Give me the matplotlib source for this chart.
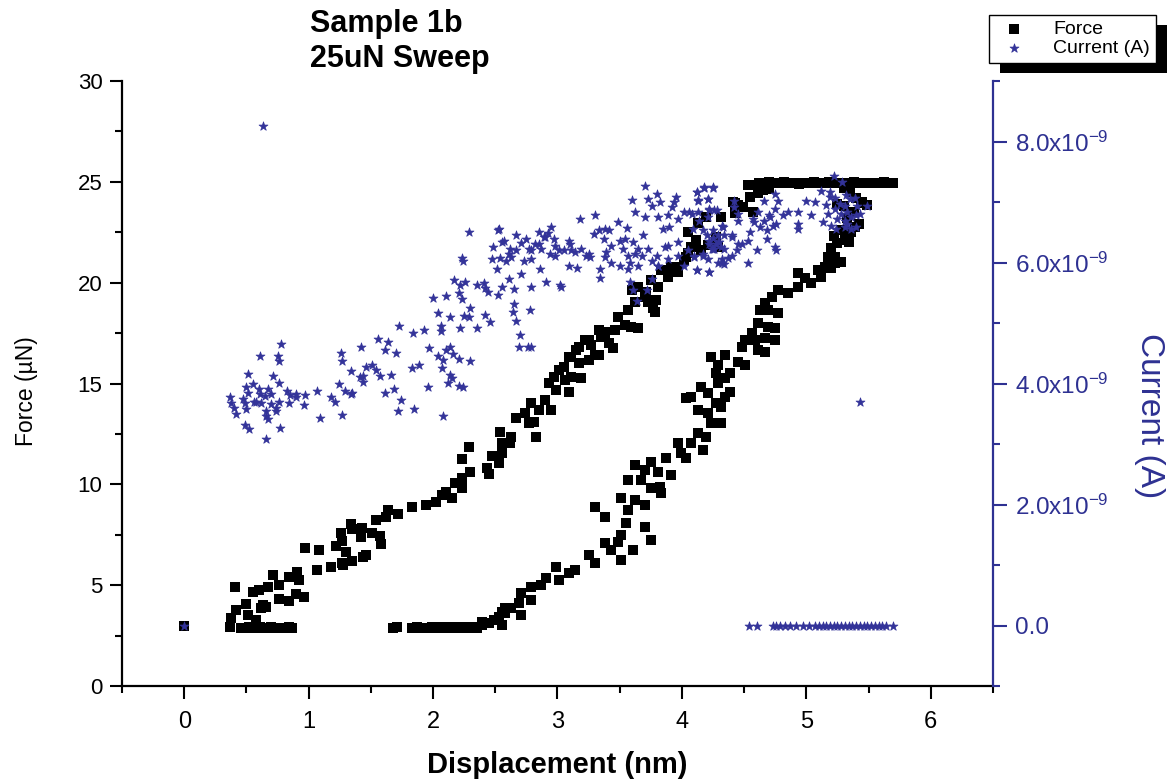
"""Sample 1b, 25uN sweep: force and current against displacement."""

import numpy as np
import matplotlib
matplotlib.use("Agg")
import matplotlib.pyplot as plt
from matplotlib.patches import Rectangle
from matplotlib.ticker import MultipleLocator, FuncFormatter

# ---- force (uN) vs displacement (nm) ----
force_x = [
    0.00,
    # baseline before contact
    0.37, 0.46, 0.49, 0.52, 0.55, 0.58, 0.61, 0.64, 0.67, 0.70, 0.73, 0.76, 0.80, 0.84, 0.87,
    # loading branch
    0.38, 0.42, 0.50, 0.51, 0.58, 0.63, 0.62, 0.66, 0.41, 0.55, 0.60, 0.67, 0.71, 0.76, 0.84,
    0.91, 0.92, 0.76, 0.84, 0.90, 0.96, 0.97, 1.08, 1.07, 1.18, 1.27, 1.28, 1.35, 1.44, 1.46,
    1.22, 1.26, 1.27, 1.30, 1.34, 1.35, 1.43, 1.42, 1.51, 1.57, 1.58, 1.54, 1.62, 1.64, 1.72,
    1.83, 1.94, 2.02, 2.07, 2.10, 2.15, 2.18, 2.23, 2.23, 2.30, 2.23, 2.29, 2.43, 2.45, 2.47,
    2.53, 2.54, 2.55, 2.55, 2.59, 2.62, 2.63,
    2.67, 2.74, 2.77, 2.81, 2.83, 2.79, 2.85, 2.90, 2.93, 2.95, 2.97, 2.99, 3.01, 3.05, 3.06,
    3.09, 3.09, 3.11, 3.15, 3.17, 3.19, 3.22, 3.25, 3.27, 3.33, 3.35, 3.38, 3.41, 3.45, 3.46,
    3.33, 3.38, 3.25, 3.17, 3.11, 3.30,
    3.49, 3.54, 3.59, 3.65, 3.57, 3.62, 3.65, 3.71, 3.73, 3.77, 3.79, 3.75, 3.81, 3.83, 3.89,
    3.91, 3.97, 4.02, 4.05, 4.11, 4.05, 4.13, 4.19, 4.31, 4.27, 4.21, 4.29, 4.15, 4.07, 4.03,
    3.97, 4.43, 4.43, 4.41, 4.45, 4.49, 4.43, 4.53, 4.59, 4.61, 4.55, 4.57, 3.78, 3.70, 3.60,
    # plateau at 25 uN
    4.62, 4.66, 4.70, 4.74, 4.78, 4.82, 4.86, 4.90, 4.94, 4.98, 5.02, 5.06, 5.10, 5.14, 5.18,
    5.22, 5.26, 5.30, 5.34, 5.38, 5.42, 5.46, 5.50, 5.54, 5.58, 5.62, 5.66, 5.70, 4.65, 4.70,
    # unloading branch
    5.35, 5.40, 5.30, 5.38, 5.33, 5.42, 5.28, 5.45, 5.30, 5.25, 5.34, 5.22, 5.44, 5.49, 5.39,
    5.36, 5.31, 5.25, 5.20, 5.17, 5.23, 5.15, 5.09, 5.12, 4.93,
    5.23, 5.28, 5.20, 5.12, 5.04, 4.99, 4.93, 4.85, 4.77, 4.72, 4.67, 4.69, 4.77, 4.63, 4.61,
    4.69, 4.75, 4.56, 4.51, 4.59, 4.67, 4.75, 4.48, 4.61, 4.67,
    4.23, 4.35, 4.45, 4.51, 4.29, 4.27, 4.39, 4.35, 4.29, 4.39, 4.15, 4.21, 4.07, 4.03, 4.35,
    4.27, 4.31, 4.13, 4.21, 4.23, 4.31, 4.13, 4.19, 4.07, 3.97, 3.99, 4.03, 4.17,
    3.87, 3.75, 3.62, 3.70, 3.81, 3.91, 3.57, 3.67, 3.75, 3.82, 3.83, 3.51, 3.62, 3.70, 3.30,
    3.38, 3.57, 3.70, 3.75, 3.55, 3.51, 3.49, 3.38, 3.43, 3.51, 3.61, 3.25, 3.30, 3.14, 3.09,
    2.99, 2.91, 3.01, 2.87, 2.79, 2.71, 2.79, 2.69, 2.63, 2.71, 2.58, 2.53, 2.45, 2.55, 2.39,
    2.39, 2.49, 2.53, 2.55, 2.58,
    # baseline after unloading
    1.68, 1.71, 1.83, 1.87, 1.91, 1.95, 1.99, 2.03, 2.07, 2.11, 2.15, 2.19, 2.23, 2.27, 2.31,
    2.35,
]
force_y = [
    2.97,
    2.93, 2.90, 2.88, 2.92, 2.90, 2.87, 2.93, 2.90, 2.88, 2.92, 2.90, 2.87, 2.90, 2.92, 2.88,
    3.37, 3.77, 4.07, 3.52, 3.27, 4.02, 3.87, 3.92, 4.90, 4.66, 4.76, 4.91, 5.50, 5.00, 5.40,
    5.65, 5.26, 4.31, 4.21, 4.56, 4.41, 6.84, 6.74, 5.75, 5.90, 6.10, 6.00, 6.20, 6.40, 6.50,
    6.94, 7.59, 7.19, 6.64, 8.03, 7.78, 7.83, 7.39, 7.59, 7.44, 7.04, 8.23, 8.38, 8.73, 8.53,
    8.87, 8.97, 9.12, 9.47, 9.62, 9.32, 10.06, 10.31, 9.82, 10.61, 11.25, 11.85, 10.81, 10.51, 11.40,
    11.06, 12.59, 12.05, 11.55, 12.05, 12.05, 12.34,
    13.29, 13.53, 13.04, 13.09, 12.34, 14.03, 13.68, 14.18, 15.02, 13.68, 15.32, 14.68, 15.67, 15.82, 15.17,
    14.58, 16.31, 15.32, 16.66, 16.01, 15.27, 17.15, 16.16, 16.91, 16.41, 17.30, 17.30, 17.01, 16.76, 17.65,
    17.65, 17.57, 17.15, 16.82, 16.33, 16.41,
    18.29, 17.90, 17.80, 17.75, 18.64, 19.04, 19.78, 19.53, 19.04, 18.74, 19.14, 20.13, 19.78, 20.62, 20.28,
    20.77, 20.53, 21.12, 21.47, 22.11, 22.51, 22.95, 23.25, 23.25, 22.26, 21.86, 21.77, 21.62, 21.77, 21.27,
    20.77, 23.95, 23.45, 24.00, 23.85, 23.75, 23.60, 24.84, 24.84, 24.44, 24.24, 23.50, 18.56, 19.30, 19.63,
    24.95, 24.90, 24.97, 24.92, 24.95, 24.98, 24.93, 24.95, 24.90, 24.96, 24.94, 24.98, 24.92, 24.95, 24.97,
    24.93, 24.96, 24.90, 24.95, 24.98, 24.94, 24.92, 24.96, 24.95, 24.93, 24.97, 24.94, 24.95, 24.60, 24.65,
    24.50, 24.20, 23.80, 23.50, 23.20, 22.90, 22.60, 24.00, 24.70, 23.90, 22.00, 22.30, 23.95, 23.85, 22.76,
    22.51, 22.11, 21.96, 21.72, 21.27, 20.97, 20.77, 20.62, 20.28, 20.48,
    21.27, 21.02, 20.72, 20.48, 19.98, 20.23, 19.78, 19.48, 19.63, 19.29, 18.99, 18.64, 18.49, 18.64, 18.00,
    17.80, 17.75, 17.50, 17.15, 17.15, 17.25, 17.15, 16.81, 16.66, 16.56,
    16.31, 16.41, 16.06, 15.91, 15.91, 15.52, 15.52, 15.27, 15.02, 14.58, 14.82, 14.53, 14.33, 14.28, 14.33,
    14.03, 13.83, 13.68, 13.53, 13.04, 13.04, 12.54, 12.34, 12.05, 12.05, 11.55, 11.30, 11.70,
    11.30, 11.11, 10.96, 10.71, 10.61, 10.46, 10.21, 10.21, 9.82, 9.87, 9.57, 9.32, 9.22, 8.97, 8.87,
    8.38, 8.73, 7.88, 7.24, 8.08, 7.49, 7.14, 7.09, 6.74, 6.25, 6.74, 6.49, 6.10, 5.75, 5.60,
    5.90, 5.35, 5.26, 5.01, 4.91, 4.61, 4.26, 4.11, 3.87, 3.52, 3.62, 3.37, 3.12, 3.02, 3.02,
    3.17, 3.27, 3.42, 3.67, 3.87,
    2.90, 2.93, 2.88, 2.92, 2.90, 2.87, 2.92, 2.90, 2.93, 2.88, 2.91, 2.90, 2.93, 2.89, 2.92,
    2.90,
]

# ---- current (units of 1e-9 A) vs displacement (nm) ----
current_x = [
    0.00, 0.63, 5.43,
    # left cloud
    0.37, 0.38, 0.40, 0.42, 0.47, 0.49, 0.50, 0.49, 0.52, 0.51, 0.50, 0.51, 0.55, 0.56, 0.58,
    0.60, 0.61, 0.62, 0.65, 0.66, 0.66, 0.67, 0.66, 0.67, 0.70, 0.71, 0.70, 0.74, 0.74, 0.76,
    0.76, 0.77, 0.78, 0.61, 0.75, 0.76, 0.83, 0.85, 0.84, 0.90, 0.90, 0.97, 0.96, 1.07, 1.09,
    1.18, 1.21, 1.24, 1.26, 1.27, 1.29, 1.27, 1.34, 1.34, 1.35, 1.42, 1.41, 1.44, 1.44, 1.46,
    1.51, 1.54, 1.57, 1.61, 1.56, 1.64, 1.61, 1.70, 1.66, 1.69, 1.74, 1.72, 1.73, 1.84, 1.85,
    1.83, 1.89, 1.93, 1.96, 1.97, 2.00, 2.04, 2.04, 2.06, 2.06, 2.08, 2.07, 2.08, 2.10, 2.10,
    2.14, 2.16, 2.14, 2.15, 2.12, 2.14, 2.21, 2.22, 2.21, 2.24, 2.30, 2.17, 2.21, 2.23, 2.22,
    2.26, 2.25, 2.29, 2.30, 2.35, 2.35, 2.41, 2.42, 2.44, 2.42, 2.46, 2.52, 2.23, 2.24, 2.29,
    2.47, 2.48, 2.52, 2.51,
    # middle band
    2.53, 2.55, 2.57, 2.62, 2.61, 2.67, 2.71, 2.75, 2.77, 2.79, 2.82, 2.85, 2.87, 2.90, 2.92,
    2.95, 2.97, 2.94, 2.98, 3.01, 3.05, 3.09, 3.11, 3.14, 3.18, 3.19, 3.25, 3.29, 3.30, 3.33,
    3.37, 3.38, 3.41, 3.43, 3.49, 3.50, 3.53, 3.54, 3.56, 3.57, 3.60, 3.62, 3.61, 3.65, 3.68,
    3.70, 3.70, 3.69, 3.73, 3.76, 3.80, 3.81, 3.82, 3.85, 3.86, 3.89, 3.90, 3.92, 3.95, 3.94,
    3.97, 4.02, 4.08, 4.12, 4.13, 4.18, 4.25, 4.21, 4.22, 4.28, 4.33, 4.40, 4.42, 4.34, 4.40,
    4.29, 4.22, 4.12, 4.02, 3.97, 3.89, 3.81, 3.76, 3.65, 3.57, 3.50, 3.43, 3.34, 3.34, 3.16,
    3.09, 3.03, 3.02, 2.91, 2.86, 2.79, 2.71, 2.65, 2.61, 2.55, 2.65, 2.64, 2.67, 2.78, 2.70,
    2.69, 2.76, 2.79,
    2.54, 2.59, 2.63, 2.67, 2.73, 2.79, 2.85, 2.89, 2.98, 3.10, 3.23, 3.26, 3.38, 3.39, 3.58,
    3.62, 3.73, 3.80, 3.89, 3.97, 4.05, 4.10, 4.17, 4.24, 4.30, 4.25, 4.27, 4.29, 4.22, 4.31,
    4.26, 3.58, 3.61, 3.64, 3.72, 3.76, 3.81,
    # right cloud
    4.12, 4.18, 4.25, 4.13, 4.21, 4.06, 4.13, 4.22, 4.26, 4.21, 4.14, 4.09, 4.17, 4.20, 4.25,
    4.32, 4.34, 4.29, 4.40, 4.22, 4.25, 4.17, 4.10, 4.21, 4.32, 4.37, 4.44, 4.48, 4.53, 4.32,
    4.34, 4.12, 4.22, 4.53, 4.45, 4.45, 4.42, 4.45, 4.57, 4.61, 4.58, 4.63, 4.66, 4.71, 4.75,
    4.76, 4.68, 4.70, 4.73, 4.81, 4.85, 4.93, 4.77, 4.75, 4.66, 4.55, 4.68, 4.75, 4.76, 4.60,
    4.93, 4.93, 5.04, 5.00, 5.07, 5.12, 5.19, 5.19, 5.16, 5.22, 5.29, 5.23, 5.27, 5.32, 5.35,
    5.39, 5.31, 5.41, 5.49, 5.17, 5.23, 5.28, 5.33, 5.25, 5.31, 5.36, 5.40, 5.43, 5.20, 5.13,
    5.24, 5.31, 5.36, 5.40, 5.33,
    # zero current after separation
    4.54, 4.60, 4.73, 4.76, 4.79, 4.83, 4.87, 4.92, 4.97, 5.02, 5.07, 5.10, 5.13, 5.16, 5.19,
    5.22, 5.25, 5.28, 5.31, 5.34, 5.37, 5.40, 5.43, 5.46, 5.49, 5.52, 5.55, 5.58, 5.61, 5.64,
    5.70,
]
current_y = [
    0.00, 8.26, 3.69,
    3.77, 3.67, 3.59, 3.49, 3.75, 3.68, 3.58, 3.32, 3.25, 4.16, 3.94, 3.85, 4.00, 3.69, 3.69,
    3.91, 3.82, 3.67, 3.79, 3.55, 3.47, 3.42, 3.09, 3.91, 3.82, 4.13, 3.66, 3.60, 3.55, 4.01,
    3.70, 3.27, 4.65, 4.46, 4.45, 4.37, 3.88, 3.81, 3.67, 3.82, 3.77, 3.81, 3.64, 3.87, 3.43,
    3.77, 3.70, 4.00, 4.51, 4.37, 3.88, 3.48, 4.21, 3.82, 3.85, 4.61, 4.11, 4.13, 4.03, 4.28,
    4.30, 4.22, 4.13, 3.85, 4.74, 4.68, 4.55, 4.51, 4.14, 3.91, 3.73, 3.54, 4.95, 4.83, 3.58,
    4.25, 4.31, 4.89, 3.95, 4.59, 5.41, 5.17, 4.45, 4.95, 4.86, 4.39, 4.25, 3.46, 5.44, 4.56,
    4.61, 4.49, 4.14, 4.09, 4.01, 5.10, 4.40, 4.92, 3.96, 3.95, 4.37, 5.71, 5.50, 5.40, 5.62,
    5.67, 5.12, 5.10, 5.25, 4.92, 5.63, 5.66, 5.58, 5.52, 5.14, 5.02, 5.46, 6.08, 6.02, 6.50,
    6.05, 6.26, 6.54, 5.89,
    6.55, 6.34, 6.36, 6.23, 6.14, 6.45, 6.32, 6.39, 6.23, 6.06, 6.31, 6.50, 6.23, 6.42, 6.49,
    6.58, 6.39, 6.14, 6.11, 6.20, 6.20, 6.36, 6.20, 6.17, 6.72, 6.23, 6.14, 6.47, 6.78, 6.53,
    6.39, 6.56, 6.53, 6.28, 6.67, 6.36, 6.23, 6.39, 6.57, 6.11, 7.03, 6.83, 6.34, 6.23, 6.11,
    6.75, 7.27, 6.45, 7.05, 6.94, 7.14, 6.75, 7.00, 6.56, 6.25, 6.78, 6.58, 6.92, 7.08, 7.00,
    6.72, 6.83, 6.80, 7.17, 7.03, 7.24, 7.24, 7.05, 6.86, 6.86, 6.58, 6.45, 6.92, 6.23, 6.11,
    6.00, 5.84, 5.87, 5.95, 6.11, 6.06, 5.95, 6.03, 5.95, 5.89, 5.95, 6.00, 5.89, 5.75, 5.91,
    5.95, 5.59, 5.62, 5.67, 5.89, 5.59, 5.81, 5.56, 5.73, 5.59, 5.31, 5.19, 5.04, 5.22, 4.80,
    4.61, 4.61, 4.61,
    6.07, 6.03, 6.09, 6.20, 6.02, 6.20, 6.31, 6.42, 6.28, 6.31, 6.11, 6.09, 6.09, 6.17, 6.00,
    6.14, 6.23, 6.10, 6.28, 6.34, 6.20, 6.10, 6.14, 6.23, 6.34, 6.40, 6.30, 6.45, 6.35, 6.25,
    6.22, 5.67, 5.54, 5.37, 5.54, 5.73, 5.95,
    7.17, 7.23, 7.23, 7.02, 7.05, 6.83, 6.83, 6.89, 6.86, 6.75, 6.69, 6.56, 6.53, 6.45, 6.53,
    6.61, 6.45, 6.34, 6.42, 6.31, 6.22, 6.11, 6.09, 6.06, 6.06, 6.07, 6.20, 6.31, 6.36, 6.00,
    5.98, 5.87, 5.84, 5.99, 6.31, 6.69, 7.02, 6.80, 6.72, 6.83, 6.67, 6.58, 6.69, 6.75, 6.89,
    6.64, 6.53, 6.78, 6.61, 6.79, 6.83, 6.84, 7.01, 7.14, 7.02, 6.50, 6.39, 6.25, 6.21, 6.21,
    6.64, 6.56, 6.79, 7.02, 7.00, 7.18, 7.16, 7.08, 6.95, 7.43, 7.33, 7.06, 6.97, 7.12, 7.05,
    7.06, 6.94, 6.94, 6.94, 6.80, 6.89, 6.80, 6.83, 6.72, 6.69, 6.75, 6.78, 6.80, 6.61, 6.67,
    6.56, 6.58, 6.56, 6.58, 6.64,
    0.00, 0.00, 0.00, 0.00, 0.00, 0.00, 0.00, 0.00, 0.00, 0.00, 0.00, 0.00, 0.00, 0.00, 0.00,
    0.00, 0.00, 0.00, 0.00, 0.00, 0.00, 0.00, 0.00, 0.00, 0.00, 0.00, 0.00, 0.00, 0.00, 0.00,
    0.00,
]

x_ticks = [0, 1, 2, 3, 4, 5, 6]
force_ticks = [0, 5, 10, 15, 20, 25, 30]
current_ticks = [0.0, 2.0, 4.0, 6.0, 8.0]

NAVY = "#333399"
AXIS_BLUE = "#2E3192"

plt.rcParams["font.family"] = ["Liberation Sans", "DejaVu Sans"]
plt.rcParams["mathtext.fontset"] = "custom"
plt.rcParams["mathtext.rm"] = "Liberation Sans"
plt.rcParams["mathtext.it"] = "Liberation Sans:italic"
plt.rcParams["mathtext.bf"] = "Liberation Sans:bold"

W_PX, H_PX = 1174, 779
fig = plt.figure(figsize=(W_PX / 100, H_PX / 100), dpi=100)
ax = fig.add_axes([122 / W_PX, 1 - 686 / H_PX, (993 - 122) / W_PX, (686 - 81) / H_PX])
ax2 = ax.twinx()

ax.scatter(force_x, force_y, marker="s", s=48, color="black", linewidths=0, label="Force")
ax2.scatter(current_x, np.array(current_y) * 1e-9, marker="*", s=46, color=NAVY,
            edgecolors=NAVY, linewidths=0.5, label="Current (A)")

ax.set_xlim(-0.5, 6.5)
ax.set_ylim(0, 30)
ax2.set_ylim(-1e-9, 9e-9)

ax.set_xticks(x_ticks)
ax.xaxis.set_minor_locator(MultipleLocator(0.5))
ax.set_yticks(force_ticks)
ax.yaxis.set_minor_locator(MultipleLocator(2.5))
ax2.set_yticks([v * 1e-9 for v in current_ticks])
ax2.yaxis.set_minor_locator(MultipleLocator(1e-9))


def current_label(v, pos):
    if abs(v) < 1e-15:
        return "0.0"
    return "%.1fx10$^{-9}$" % (v * 1e9)


ax2.yaxis.set_major_formatter(FuncFormatter(current_label))

for a in (ax, ax2):
    a.spines["top"].set_visible(False)
    for s in a.spines.values():
        s.set_linewidth(1.6)
ax.spines["right"].set_visible(False)
ax2.spines["left"].set_visible(False)
ax2.spines["bottom"].set_visible(False)
ax2.spines["right"].set_color(AXIS_BLUE)

ax.tick_params(axis="both", which="major", direction="out", length=9, width=1.5, pad=5)
ax.tick_params(axis="both", which="minor", direction="out", length=5, width=1.5)
ax.tick_params(axis="y", labelsize=16)
ax.tick_params(axis="x", labelsize=17, pad=9)
ax2.tick_params(axis="y", which="major", direction="out", length=10, width=1.5,
                colors=AXIS_BLUE, labelsize=17.5, pad=6)
ax2.tick_params(axis="y", which="minor", direction="out", length=5, width=1.5,
                colors=AXIS_BLUE)

ax.set_xlabel("Displacement (nm)", fontsize=21, fontweight="bold", labelpad=13)
fig.text(27 / W_PX, 1 - 391 / H_PX, "Force (\u00b5N)", rotation=90, ha="center",
         va="center", fontsize=16.5)
fig.text(1150 / W_PX, 1 - 416 / H_PX, "Current (A)", rotation=270, ha="center",
         va="center", fontsize=24, color=AXIS_BLUE)

fig.text(310 / W_PX, 1 - 9 / H_PX, "Sample 1b\n25uN Sweep", ha="left", va="top",
         fontsize=22, fontweight="bold", linespacing=1.22)

leg = fig.legend(loc="upper left", bbox_to_anchor=(989 / W_PX, 1 - 15 / H_PX),
                 fontsize=14, frameon=True, fancybox=False, framealpha=1,
                 borderpad=0.3, handletextpad=1.0, labelspacing=0.05,
                 handlelength=2.0, borderaxespad=0)
leg.get_frame().set_edgecolor("black")
leg.get_frame().set_linewidth(1.0)
leg.set_zorder(10)

fig.canvas.draw()
bb = leg.get_window_extent()
shadow = Rectangle(((bb.x0 + 11) / W_PX, (bb.y0 - 10) / H_PX), bb.width / W_PX,
                   bb.height / H_PX, transform=fig.transFigure, facecolor="black",
                   edgecolor="none", zorder=5)
fig.patches.append(shadow)

fig.savefig("out.png", dpi=100)
